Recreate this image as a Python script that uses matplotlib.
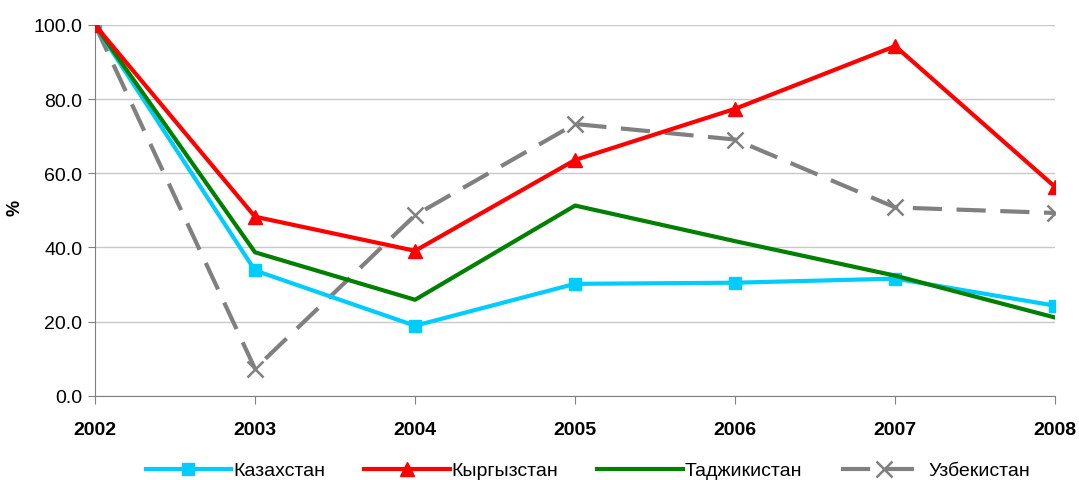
import matplotlib
matplotlib.use("Agg")
import matplotlib.pyplot as plt

plt.rcParams["font.family"] = ["Liberation Sans", "DejaVu Sans"]

YEARS = ["2002", "2003", "2004", "2005", "2006", "2007", "2008"]
KAZ = [100.0, 33.8, 18.9, 30.2, 30.5, 31.6, 24.3]
KYR = [100.0, 48.3, 39.1, 63.6, 77.4, 94.3, 56.3]
TAJ = [100.0, 38.7, 25.9, 51.3, 41.7, 32.4, 21.1]
UZB = [100.0, 7.3, 48.7, 73.3, 69.1, 50.8, 49.3]

fig = plt.figure(figsize=(10.79, 4.81), dpi=100)
ax = fig.add_axes([0.088, 0.175, 0.890, 0.771])

x = range(len(YEARS))
ax.plot(x, KAZ, color="#00CCFF", lw=3, marker="s", ms=9, label="Казахстан", zorder=3)
ax.plot(x, KYR, color="#FF0000", lw=3, marker="^", ms=10, label="Кыргызстан", zorder=4)
ax.plot(x, TAJ, color="#008000", lw=3, label="Таджикистан", zorder=3)
ax.plot(x, UZB, color="#808080", lw=3, marker="x", ms=11, mew=1.8,
        dashes=(7, 3.5), label="Узбекистан", zorder=2)

ax.set_xlim(0, len(YEARS) - 1)
ax.set_ylim(0, 100)
ax.set_xticks(list(x))
ax.set_xticklabels(YEARS, fontsize=14, fontweight="bold")
ax.set_yticks([0, 20, 40, 60, 80, 100])
ax.set_yticklabels([f"{v:.1f}" for v in [0, 20, 40, 60, 80, 100]], fontsize=14)
ax.tick_params(axis="x", length=6, pad=12, color="#808080")
ax.tick_params(axis="y", length=5, pad=4, color="#808080")
ax.yaxis.grid(True, color="#C8C8C8", lw=1)
ax.set_axisbelow(True)
for s in ["top", "right"]:
    ax.spines[s].set_visible(False)
for s in ["left", "bottom"]:
    ax.spines[s].set_color("#808080")
ax.set_ylabel("%", fontsize=13, fontweight="bold")
ax.yaxis.set_label_coords(-0.074, 0.51)

fig.legend(loc="lower center", ncol=4, frameon=False, fontsize=14,
           bbox_to_anchor=(0.545, -0.035), handlelength=4.4, columnspacing=2.0,
           handletextpad=0.1)

fig.savefig("out.png", dpi=100)
